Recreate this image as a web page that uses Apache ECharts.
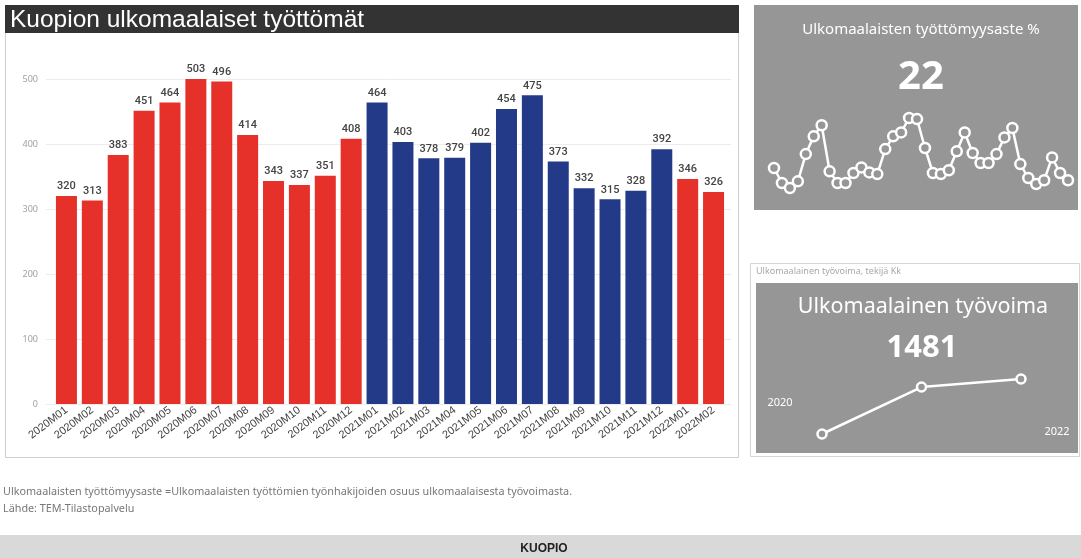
<!DOCTYPE html>
<html>
<head>
<meta charset="utf-8">
<script src="https://cdn.jsdelivr.net/npm/echarts@6/dist/echarts.min.js"></script>
<style>
html,body{margin:0;padding:0;background:#fff;}
#c{width:1081px;height:558px;}
</style>
</head>
<body>
<div id="c"></div>
<script>
// ---- data ----
var categories = ["2020M01","2020M02","2020M03","2020M04","2020M05","2020M06","2020M07","2020M08","2020M09","2020M10","2020M11","2020M12",
  "2021M01","2021M02","2021M03","2021M04","2021M05","2021M06","2021M07","2021M08","2021M09","2021M10","2021M11","2021M12",
  "2022M01","2022M02"];
var unemployed = [320,313,383,451,464,503,496,414,343,337,351,408,
  464,403,378,379,402,454,475,373,332,315,328,392,
  346,326];
var yTicks = [0,100,200,300,400,500];
var yearColors = {"2020":"#E5312A","2021":"#233A88","2022":"#E5312A"};

// unemployment rate sparkline (monthly 2019M01..2022M02), estimated
var rateMonths = ["2019M01","2019M02","2019M03","2019M04","2019M05","2019M06","2019M07","2019M08","2019M09","2019M10","2019M11","2019M12",
  "2020M01","2020M02","2020M03","2020M04","2020M05","2020M06","2020M07","2020M08","2020M09","2020M10","2020M11","2020M12",
  "2021M01","2021M02","2021M03","2021M04","2021M05","2021M06","2021M07","2021M08","2021M09","2021M10","2021M11","2021M12",
  "2022M01","2022M02"];
var rateValues = [24.2,21.5,20.6,21.8,26.7,29.9,31.9,23.6,21.5,21.5,23.3,24.3,
  23.4,23.1,27.6,29.9,30.6,33.2,33.0,27.8,23.3,23.1,23.8,27.2,
  30.6,26.9,25.1,25.1,26.7,29.7,31.4,24.9,22.4,21.3,22.0,26.1,
  23.3,22.0];
var rateLatest = "22";

// foreign labour force by year, estimated
var laborYears = ["2020","2021","2022"];
var laborValues = [1200,1440,1481];
var laborLatest = "1481";

// ---- chart ----
var chart = echarts.init(document.getElementById('c'));
var barData = unemployed.map(function(v,i){
  return {value:v, itemStyle:{color:yearColors[categories[i].slice(0,4)]}};
});
var gray = '#969696';
var option = {
  animation:false,
  graphic:[
    {type:'rect', shape:{x:5.5,y:5.5,width:733,height:452}, style:{fill:'#fff',stroke:'#cfcfcf',lineWidth:1}, z:-10},
    {type:'rect', shape:{x:5,y:5,width:734,height:28}, style:{fill:'#333333'}, z:-5},
    {type:'rect', shape:{x:754,y:5,width:324,height:205}, style:{fill:gray}, z:-10},
    {type:'rect', shape:{x:750.5,y:263.5,width:329,height:193}, style:{fill:'#fff',stroke:'#d6d6d6',lineWidth:1}, z:-11},
    {type:'rect', shape:{x:756,y:283,width:322,height:170}, style:{fill:gray}, z:-10},
    {type:'rect', shape:{x:0,y:535,width:1081,height:23}, style:{fill:'#d9d9d9'}, z:-10},
    {type:'text', x:10, y:20, style:{text:'Kuopion ulkomaalaiset työttömät', fill:'#fff', font:'24.5px "Liberation Sans Narrow", "Liberation Sans", Arial', textVerticalAlign:'middle'}},
    {type:'text', x:921, y:30, style:{text:'Ulkomaalaisten työttömyysaste %', fill:'#fff', font:'15px "Noto Sans", "Open Sans"', textAlign:'center', textVerticalAlign:'middle'}},
    {type:'text', x:921, y:78, style:{text:rateLatest, fill:'#fff', font:'bold 40px "Noto Sans", "Open Sans"', textAlign:'center', textVerticalAlign:'middle'}},
    {type:'text', x:756, y:271, style:{text:'Ulkomaalainen työvoima, tekijä Kk', fill:'#a8a8a8', font:'9px "Noto Sans", "Open Sans"', textVerticalAlign:'middle'}},
    {type:'text', x:923, y:307, style:{text:'Ulkomaalainen työvoima', fill:'#fff', font:'21.5px "Noto Sans", "Open Sans"', textAlign:'center', textVerticalAlign:'middle'}},
    {type:'text', x:922, y:348, style:{text:laborLatest, fill:'#fff', font:'bold 31px "Noto Sans", "Open Sans"', textAlign:'center', textVerticalAlign:'middle'}},
    {type:'text', x:780, y:403, style:{text:laborYears[0], fill:'#fff', font:'11px "Noto Sans", "Open Sans"', textAlign:'center', textVerticalAlign:'middle'}},
    {type:'text', x:1057, y:432, style:{text:laborYears[laborYears.length-1], fill:'#fff', font:'11px "Noto Sans", "Open Sans"', textAlign:'center', textVerticalAlign:'middle'}},
    {type:'text', x:3, y:492, style:{text:'Ulkomaalaisten työttömyysaste =Ulkomaalaisten työttömien työnhakijoiden osuus ulkomaalaisesta työvoimasta.', fill:'#777', font:'10.8px "Noto Sans", "Open Sans"', textVerticalAlign:'middle'}},
    {type:'text', x:3, y:509, style:{text:'Lähde: TEM-Tilastopalvelu', fill:'#777', font:'10.8px "Noto Sans", "Open Sans"', textVerticalAlign:'middle'}},
    {type:'text', x:544, y:549, style:{text:'KUOPIO', fill:'#222', font:'bold 12px "Liberation Sans", Arial', textAlign:'center', textVerticalAlign:'middle'}}
  ],
  grid:[
    {left:46, right:1081-731, top:79, bottom:558-404},
    {left:53.5, right:1081-726.5, top:79, bottom:558-404},
    {left:774, right:1081-1068, top:118, bottom:558-188},
    {left:822, right:1081-1021, top:379, bottom:558-434}
  ],
  xAxis:[
    {gridIndex:0, type:'value', show:false, min:0, max:1},
    {gridIndex:1, type:'category', data:categories,
      axisLine:{show:false}, axisTick:{show:false},
      axisLabel:{rotate:37, interval:0, fontSize:11, color:'#444', margin:5, fontFamily:'"Liberation Sans", Arial'}},
    {gridIndex:2, type:'category', data:rateMonths, boundaryGap:false, show:false},
    {gridIndex:3, type:'category', data:laborYears, boundaryGap:false, show:false}
  ],
  yAxis:[
    {gridIndex:0, type:'value', min:yTicks[0], max:yTicks[yTicks.length-1], interval:100,
      axisLine:{show:false}, axisTick:{show:false},
      axisLabel:{fontSize:9, color:'#a0a0a0', margin:8, fontFamily:'"Noto Sans", "Open Sans"'},
      splitLine:{lineStyle:{color:'#ececec', width:1}}},
    {gridIndex:1, type:'value', min:yTicks[0], max:yTicks[yTicks.length-1], show:false, splitLine:{show:false}},
    {gridIndex:2, type:'value', min:Math.min.apply(null,rateValues), max:Math.max.apply(null,rateValues), show:false, splitLine:{show:false}},
    {gridIndex:3, type:'value', min:Math.min.apply(null,laborValues), max:Math.max.apply(null,laborValues), show:false, splitLine:{show:false}}
  ],
  series:[
    {type:'bar', xAxisIndex:1, yAxisIndex:1, data:barData, barWidth:21,
      label:{show:true, position:'top', distance:4, fontSize:11, fontWeight:500, color:'#444', fontFamily:'Roboto, "DejaVu Sans Condensed"'}},
    {type:'line', xAxisIndex:2, yAxisIndex:2, data:rateValues, symbol:'circle', symbolSize:10, showSymbol:true, showAllSymbol:true,
      lineStyle:{color:'#fff', width:2.5}, itemStyle:{color:gray, borderColor:'#fff', borderWidth:2.5}},
    {type:'line', xAxisIndex:3, yAxisIndex:3, data:laborValues, symbol:'circle', symbolSize:9, showSymbol:true, showAllSymbol:true,
      lineStyle:{color:'#fff', width:2.5}, itemStyle:{color:gray, borderColor:'#fff', borderWidth:2.5}}
  ]
};
chart.setOption(option);
</script>
</body>
</html>
